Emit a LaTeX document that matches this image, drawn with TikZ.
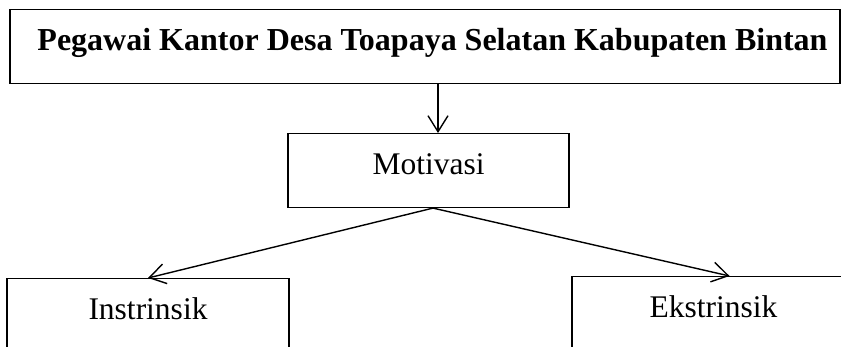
\documentclass[tikz,border=0pt]{standalone}
\usepackage{fontspec}
\setmainfont{Liberation Serif}
\usetikzlibrary{arrows.meta}

\begin{document}
\begin{tikzpicture}[x=1pt, y=1pt,
    kotak/.style={draw, line width=1.1pt, inner sep=0pt, anchor=north,
        text height=41pt, text depth=33pt,
        font=\fontsize{31.5}{36}\selectfont},
    panah/.style={line width=1.4pt, -{Straight Barb[length=16pt, width=20pt, line width=1.4pt]}}]
    \useasboundingbox (0,0) rectangle (841,346);
    \clip (0,0) rectangle (841,346);

    % pegawai -> motivasi
    \node[kotak, minimum width=830pt, font=\fontsize{32}{36}\selectfont\bfseries] (pegawai) at (425,337)
        {\hspace*{15pt}Pegawai Kantor Desa Toapaya Selatan Kabupaten Bintan};
    \node[kotak, minimum width=281pt] (motivasi) at (428.5,213) {Motivasi};

    % motivasi -> (instrinsik, ekstrinsik)
    \node[kotak, minimum width=282pt] (instrinsik) at (148,68) {Instrinsik};
    \node[kotak, minimum width=283pt] (ekstrinsik) at (713.5,70) {Ekstrinsik};

    \draw[panah] ([xshift=9.5pt]motivasi.north |- pegawai.south) -- ([xshift=9.5pt]motivasi.north);
    \draw[panah] ([xshift=4.5pt]motivasi.south) -- (instrinsik.north);
    \draw[panah] ([xshift=4.5pt]motivasi.south) -- ([xshift=16pt]ekstrinsik.north);

\end{tikzpicture}
\end{document}
